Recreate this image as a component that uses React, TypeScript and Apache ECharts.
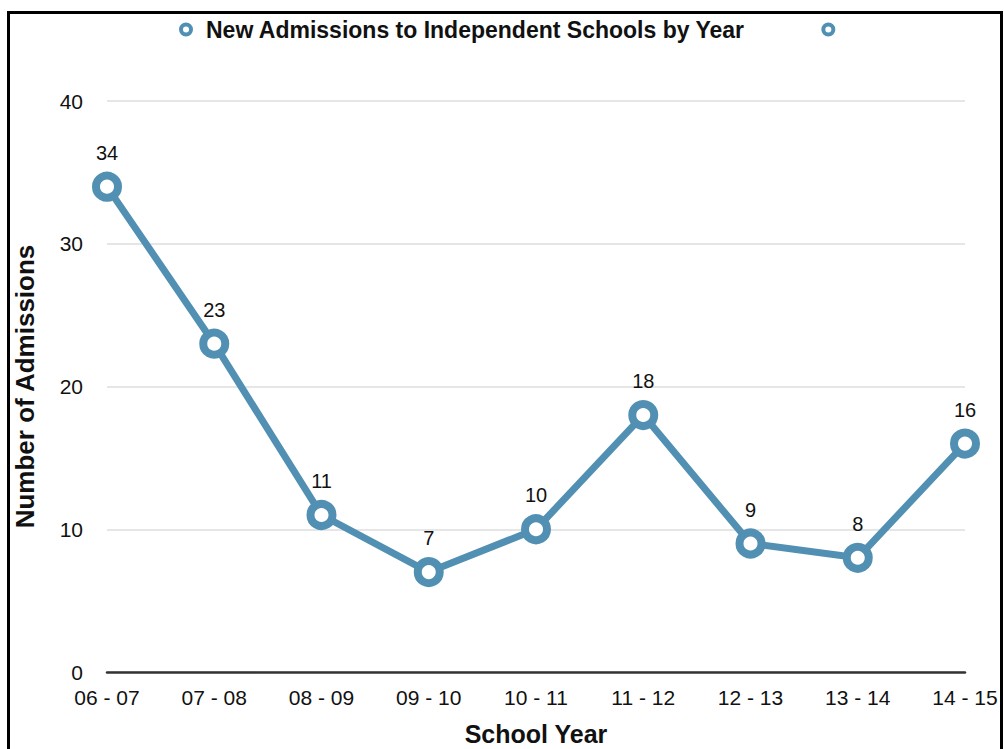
import React, { useEffect, useRef } from "react";
import * as echarts from "echarts";

const categories = ["06 - 07", "07 - 08", "08 - 09", "09 - 10", "10 - 11", "11 - 12", "12 - 13", "13 - 14", "14 - 15"];
const admissions = [34, 23, 11, 7, 10, 18, 9, 8, 16];
const seriesName = "New Admissions to Independent Schools by Year";
const yTicks = { min: 0, max: 40, interval: 10 };

const LINE = "#5190b3";
const FONT = "'Liberation Sans', Arial, Helvetica, sans-serif";
const RING = "path://M12,6A6,6 0 1,0 0,6A6,6 0 1,0 12,6ZM8.6,6A2.6,2.6 0 1,1 3.4,6A2.6,2.6 0 1,1 8.6,6Z";

export default function App() {
  const ref = useRef<HTMLDivElement>(null);
  useEffect(() => {
    if (!ref.current) return;
    const chart = echarts.init(ref.current, undefined, { renderer: "svg" });
    chart.setOption({
      animation: false,
      backgroundColor: "#fff",
      textStyle: { fontFamily: FONT },
      graphic: [
        {
          type: "rect",
          shape: { x: 8.5, y: 12.5, width: 993, height: 760 },
          style: { fill: "none", stroke: "#000", lineWidth: 3 },
          silent: true,
          z: 100,
        },
      ],
      legend: {
        left: 174,
        top: 13,
        itemWidth: 14,
        itemHeight: 14,
        itemGap: 76,
        icon: RING,
        itemStyle: { color: LINE, borderWidth: 0 },
        data: [seriesName, " "],
        textStyle: { fontSize: 23, fontWeight: "bold", color: "#111", padding: [0, 0, 0, 8], fontFamily: FONT },
      },
      grid: { left: 107, right: 39, top: 101, bottom: 77, outerBoundsMode: "none", containLabel: false },
      xAxis: {
        type: "category",
        data: categories,
        boundaryGap: false,
        name: "School Year",
        nameLocation: "middle",
        nameGap: 49,
        nameTextStyle: { fontSize: 25, fontWeight: "bold", color: "#111", fontFamily: FONT },
        axisLine: { lineStyle: { color: "#333", width: 2.5 } },
        axisTick: { show: false },
        axisLabel: { fontSize: 21, color: "#111", margin: 15, fontFamily: FONT },
      },
      yAxis: {
        type: "value",
        min: yTicks.min,
        max: yTicks.max,
        interval: yTicks.interval,
        name: "Number of Admissions",
        nameLocation: "middle",
        nameGap: 69,
        nameTextStyle: { fontSize: 26, fontWeight: "bold", color: "#111", fontFamily: FONT },
        axisLine: { show: false },
        axisTick: { show: false },
        axisLabel: { fontSize: 21, color: "#111", margin: 24, fontFamily: FONT },
        splitLine: { lineStyle: { color: "#e6e6e6", width: 2 } },
      },
      series: [
        {
          name: seriesName,
          type: "line",
          data: admissions,
          symbol: "circle",
          symbolSize: 22,
          lineStyle: { color: LINE, width: 7 },
          itemStyle: { color: "#fff", borderColor: LINE, borderWidth: 8 },
          label: { show: true, position: "top", distance: 9, fontSize: 20, color: "#111", fontFamily: FONT },
          z: 3,
        },
        {
          name: " ",
          type: "line",
          data: [],
          symbol: "circle",
          itemStyle: { color: LINE },
          lineStyle: { color: LINE },
        },
      ],
    });
    return () => chart.dispose();
  }, []);
  return (
    <div
      ref={ref}
      style={{ position: "absolute", left: 0, top: 0, width: 1004, height: 749 }}
    />
  );
}
